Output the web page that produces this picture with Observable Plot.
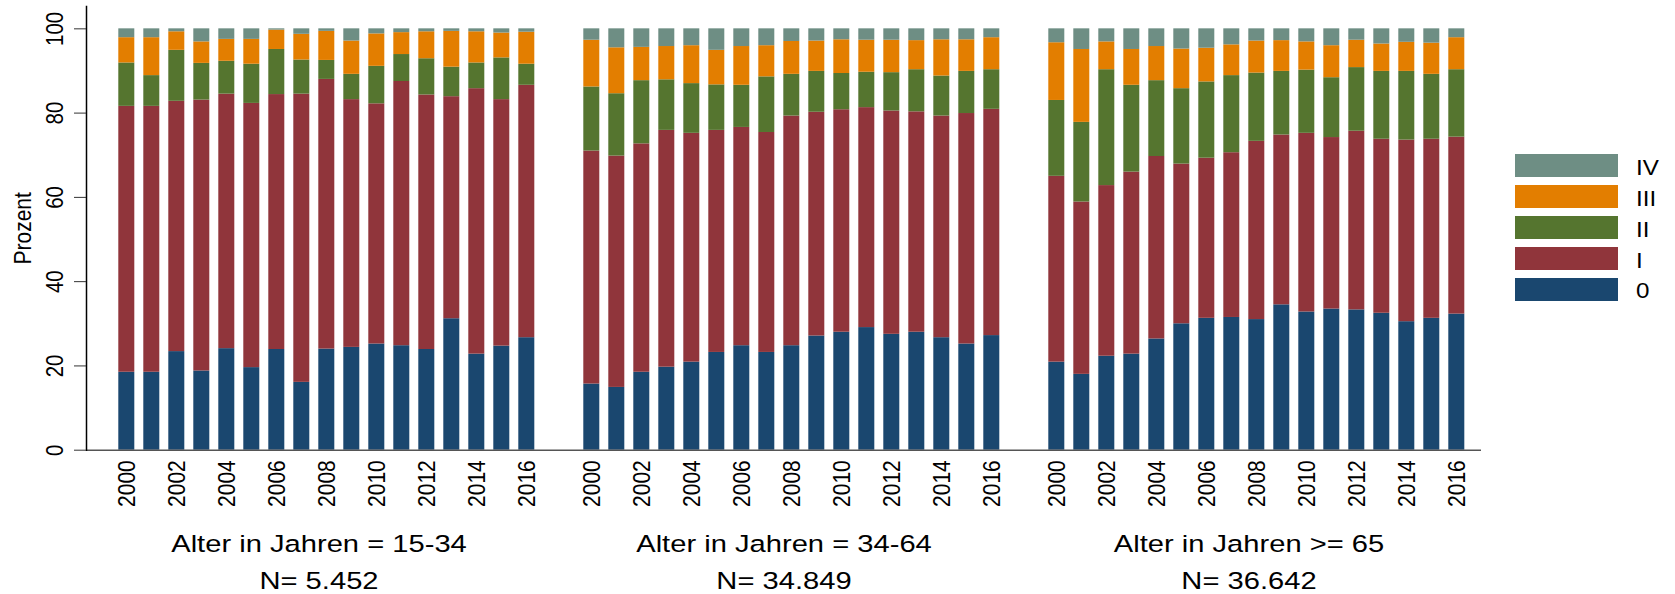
<!DOCTYPE html>
<html><head><meta charset="utf-8">
<script src="https://cdn.jsdelivr.net/npm/d3@7"></script>
<script src="https://cdn.jsdelivr.net/npm/@observablehq/plot@0.6"></script>
<style>
html,body{margin:0;padding:0;background:#fff;}
#chart{position:relative;width:1675px;height:594px;overflow:hidden;background:#fff;font-family:"Liberation Sans",Arial,sans-serif;}
#chart svg{position:absolute;left:0;top:0;}
.sw{position:absolute;width:103px;height:23px;}
.lb{position:absolute;font-size:22px;line-height:23px;color:#000;transform:scaleX(1.1);transform-origin:left center;white-space:nowrap;}
</style></head><body><div id="chart"></div>
<script>
const years = [2000,2001,2002,2003,2004,2005,2006,2007,2008,2009,2010,2011,2012,2013,2014,2015,2016];
const tickYears = [2000,2002,2004,2006,2008,2010,2012,2014,2016];
const yTicks = [0,20,40,60,80,100];
const categories = ["0","I","II","III","IV"];
const colors = ["#1a476f","#90353b","#55752f","#e37e00","#6e8e84"];
const panels = ["15-34","34-64",">= 65"];
const panelTitles = ["Alter in Jahren = 15-34","Alter in Jahren = 34-64","Alter in Jahren >= 65"];
const panelN = ["N= 5.452","N= 34.849","N= 36.642"];

// Alter 15-34
const p1_0   = [18.5,18.5,23.4,18.8,24.1,19.6,23.9,16.1,24.0,24.4,25.2,24.8,23.9,31.2,22.8,24.7,26.7];
const p1_I   = [63.1,63.1,59.4,64.3,60.4,62.7,60.5,68.4,64.0,58.8,57.0,62.7,60.4,52.7,63.0,58.5,59.9];
const p1_II  = [10.3, 7.3,12.1, 8.7, 7.8, 9.3,10.7, 8.1, 4.5, 6.0, 8.9, 6.4, 8.6, 7.0, 6.1, 9.9, 5.0];
const p1_III = [ 6.0, 9.0, 4.4, 5.1, 5.2, 5.9, 4.6, 6.1, 6.9, 7.9, 7.7, 5.2, 6.4, 8.5, 7.4, 5.9, 7.6];
const p1_IV  = [ 2.1, 2.1, 0.7, 3.1, 2.5, 2.5, 0.3, 1.3, 0.6, 2.9, 1.2, 0.9, 0.7, 0.6, 0.7, 1.0, 0.8];
// Alter 34-64
const p2_0   = [15.7,14.9,18.5,19.7,20.9,23.2,24.8,23.2,24.8,27.1,28.0,29.1,27.5,28.0,26.7,25.2,27.2];
const p2_I   = [55.3,54.9,54.2,56.2,54.3,52.7,51.8,52.2,54.5,53.1,52.8,52.2,53.0,52.3,52.6,54.7,53.7];
const p2_II  = [15.2,14.8,15.0,12.0,11.8,10.8,10.0,13.2, 9.9, 9.7, 8.6, 8.4, 9.1,10.0, 9.5,10.0, 9.4];
const p2_III = [11.1,10.9, 7.9, 7.9, 9.0, 8.2, 9.2, 7.4, 7.8, 7.2, 8.0, 7.6, 7.7, 6.9, 8.6, 7.5, 7.6];
const p2_IV  = [ 2.7, 4.5, 4.4, 4.2, 4.0, 5.1, 4.2, 4.0, 3.0, 2.9, 2.6, 2.7, 2.7, 2.8, 2.6, 2.6, 2.1];
// Alter >= 65
const p3_0   = [20.9,18.0,22.3,22.8,26.4,30.0,31.3,31.5,31.0,34.5,32.8,33.5,33.3,32.5,30.5,31.3,32.3];
const p3_I   = [44.1,40.9,40.5,43.2,43.3,37.9,38.0,39.1,42.3,40.3,42.4,40.7,42.4,41.3,43.1,42.5,42.0];
const p3_II  = [18.0,18.9,27.5,20.6,18.0,17.9,18.1,18.3,16.2,15.1,15.0,14.2,15.1,16.1,16.3,15.4,16.0];
const p3_III = [13.7,17.3, 6.6, 8.5, 8.1, 9.4, 8.0, 7.3, 7.6, 7.3, 6.7, 7.6, 6.5, 6.5, 6.9, 7.4, 7.6];
const p3_IV  = [ 3.3, 4.9, 3.1, 4.9, 4.2, 4.8, 4.6, 3.8, 2.9, 2.8, 3.1, 4.0, 2.7, 3.6, 3.2, 3.4, 2.1];

const seriesByPanel = [
  [p1_0,p1_I,p1_II,p1_III,p1_IV],
  [p2_0,p2_I,p2_II,p2_III,p2_IV],
  [p3_0,p3_I,p3_II,p3_III,p3_IV]
];
const rows = [];
panels.forEach((p, pi) => categories.forEach((c, ci) => years.forEach((y, yi) =>
  rows.push({panel: p, year: y, cat: c, value: seriesByPanel[pi][ci][yi]}))));

const plot = Plot.plot({
  width: 1675, height: 594,
  marginLeft: 85.7, marginRight: 194.3, marginTop: 6, marginBottom: 144.3,
  style: {fontFamily: '"Liberation Sans", Arial, sans-serif', fontSize: "20px", background: "white", color: "black", overflow: "visible"},
  fx: {domain: panels, padding: 0},
  x: {type: "band", domain: years, paddingInner: 0.3663, paddingOuter: 0.891, align: 0.651},
  y: {domain: [0, 105.3]},
  color: {domain: categories, range: colors},
  marks: [
    Plot.barY(rows, {fx: "panel", x: "year", y: "value", fill: "cat", order: categories}),
    Plot.ruleY([0], {stroke: "#555", strokeWidth: 1.5}),
    Plot.frame({anchor: "left", facetAnchor: "left", stroke: "#000", strokeWidth: 1.5}),
    Plot.axisY({ticks: yTicks, tickSize: 12, text: null, stroke: "#333",
      label: "Prozent", labelAnchor: "center", labelOffset: 73, labelArrow: "none", fontSize: 21, fill: "black"}),
    Plot.text(yTicks, {y: d => d, text: d => String(d), frameAnchor: "left", dx: -23, rotate: -90,
      textAnchor: "middle", lineAnchor: "bottom", fontSize: 20.5, fill: "black", facetAnchor: "left"}),
    Plot.axisX({ticks: tickYears, tickFormat: d => String(d), tickSize: 0, tickPadding: 10, tickRotate: -90, fontSize: 21, label: null, fill: "black"}),
    Plot.axisFx({anchor: "bottom", tickSize: 0, tickPadding: 85.3, fontSize: 23.5, label: null, fill: "black",
      tickFormat: d => panelTitles[panels.indexOf(d)]}),
    Plot.axisFx({anchor: "bottom", tickSize: 0, tickPadding: 122.6, fontSize: 23.5, label: null, fill: "black",
      tickFormat: d => panelN[panels.indexOf(d)]})
  ]
});

function stretch(sel, sx, sy) {
  plot.querySelectorAll(sel).forEach(t => {
    const tr = t.getAttribute("transform");
    if (tr) t.setAttribute("transform", tr + ` scale(${sx},${sy})`);
  });
}
stretch('g[aria-label="x-axis tick label"] text', 1, 1.15);
stretch('g[aria-label="text"] text', 1, 1.2);
stretch('g[aria-label="y-axis label"] text', 1, 1.16);
stretch('g[aria-label="fx-axis tick label"] text', 1.24, 1);

const chart = document.getElementById("chart");
chart.appendChild(plot);

// legend (top to bottom: IV ... 0)
const legendTop = 154.3, legendStep = 30.9;
categories.slice().reverse().forEach((c, i) => {
  const ci = categories.indexOf(c);
  const sw = document.createElement("div");
  sw.className = "sw";
  sw.style.left = "1515px";
  sw.style.top = (legendTop + i * legendStep) + "px";
  sw.style.background = colors[ci];
  chart.appendChild(sw);
  const lb = document.createElement("div");
  lb.className = "lb";
  lb.style.left = "1636px";
  lb.style.top = (legendTop + i * legendStep + 1.5) + "px";
  lb.textContent = c;
  chart.appendChild(lb);
});
</script>
</body></html>
